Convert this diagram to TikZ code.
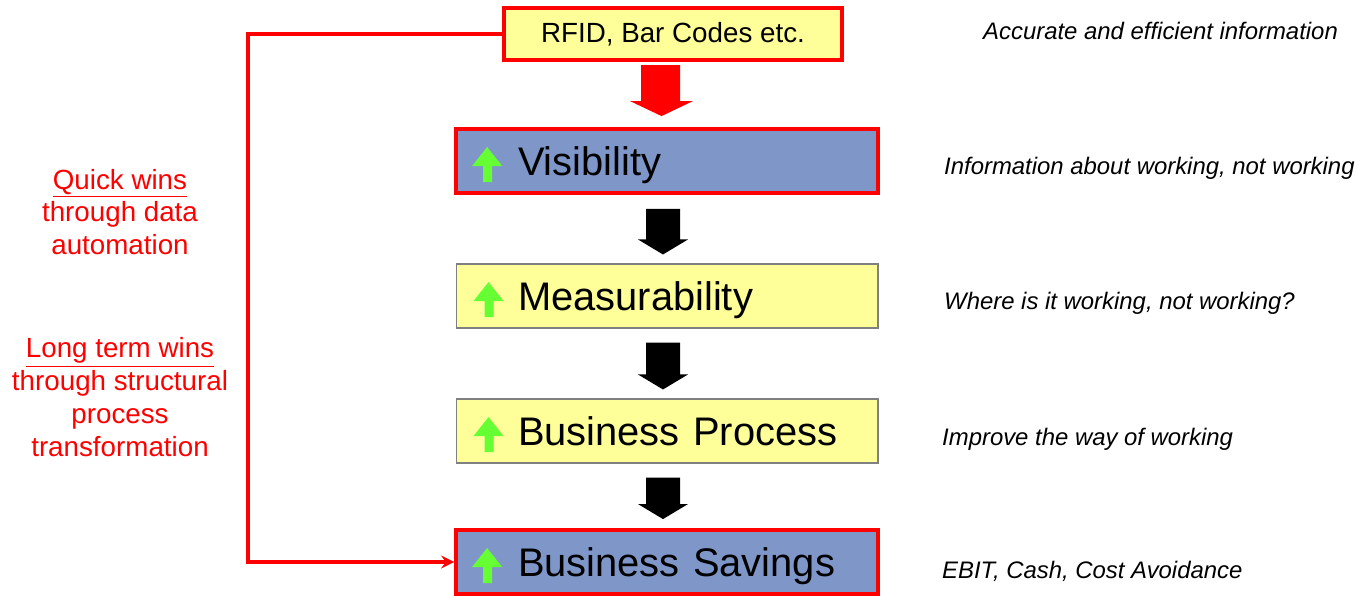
\documentclass[tikz,border=0pt]{standalone}
\usepackage{fontspec}
\setmainfont{Liberation Sans}
\usetikzlibrary{calc}
\definecolor{boxyellow}{RGB}{255,255,153}
\definecolor{boxblue}{RGB}{127,150,200}
\definecolor{upgreen}{RGB}{102,255,51}
\begin{document}
\begin{tikzpicture}[>=stealth,x=0.02cm,y=-0.02cm,
	bigbox/.style={minimum height=1.28cm,text width=8.44cm,inner xsep=0pt,text height=20pt,text depth=3pt,align=left,font=\fontsize{22.7}{27}\selectfont},
	keybox/.style={bigbox,draw=red,line width=2.2pt,fill=boxblue},
	plainbox/.style={bigbox,draw=gray,line width=0.6pt,fill=boxyellow},
	note/.style={anchor=west,font=\fontsize{13.6}{16}\selectfont\itshape},
	wins/.style={align=center,text=red,font=\fontsize{15.8}{18.7}\selectfont}]
	\useasboundingbox (0,0) rectangle (1361,595);
	\node[draw=red,line width=2.2pt,fill=boxyellow,minimum width=6.76cm,minimum height=1.04cm,font=\fontsize{15.8}{19}\selectfont] (rfid) at (673,34) {RFID, Bar Codes etc.};
	\node[keybox] (vis) at (667,161) {\hspace*{1.24cm}Visibility};
	\node[plainbox] (meas) at (667,296) {\hspace*{1.24cm}Measurability};
	\node[plainbox] (proc) at (667,431) {\hspace*{1.24cm}Business Process};
	\node[keybox] (sav) at (667,562) {\hspace*{1.24cm}Business Savings};
	% green up arrows
	\foreach \n in {vis,meas,proc,sav}
	\fill[upgreen] ($(\n.west)+(29,5)$)--($(\n.west)+(18,5)$)--($(\n.west)+(33,-14)$)--($(\n.west)+(48,5)$)--($(\n.west)+(38,5)$)--($(\n.west)+(38,21)$)--($(\n.west)+(29,21)$)--cycle;
	% block arrows
	\fill[red] ($(vis.north)+(-26,-62)$)--($(vis.north)+(13,-62)$)--($(vis.north)+(13,-26)$)--($(vis.north)+(26,-26)$)--($(vis.north)+(-5.5,-11)$)--($(vis.north)+(-37,-26)$)--($(vis.north)+(-26,-26)$)--cycle;
	\foreach \a/\b in {vis/meas,meas/proc,proc/sav}
	\fill ($(\a.south)+(-21,14)$)--($(\a.south)+(13,14)$)--($(\b.north)+(13,-24)$)--($(\b.north)+(21,-24)$)--($(\b.north)+(-4,-9)$)--($(\b.north)+(-29,-24)$)--($(\b.north)+(-21,-24)$)--cycle;
	\draw[red,line width=2.2pt,->] (rfid.west)--++(-254,0) |- (sav.west);
	\node[wins] (quick) at (120,212) {\underline{Quick wins}\\through data\\automation};
	\node[wins] (long) at (120,397) {\underline{Long term wins}\\through structural\\process\\transformation};
	\node[note] (n1) at (977,31) {Accurate and efficient information};
	\node[note] (n2) at (938,168) {Information about working, not working};
	\node[note] (n3) at (938,303) {Where is it working, not working?};
	\node[note] (n4) at (936,439) {Improve the way of working};
	\node[note] (n5) at (936,571) {EBIT, Cash, Cost Avoidance};
\end{tikzpicture}
\end{document}
